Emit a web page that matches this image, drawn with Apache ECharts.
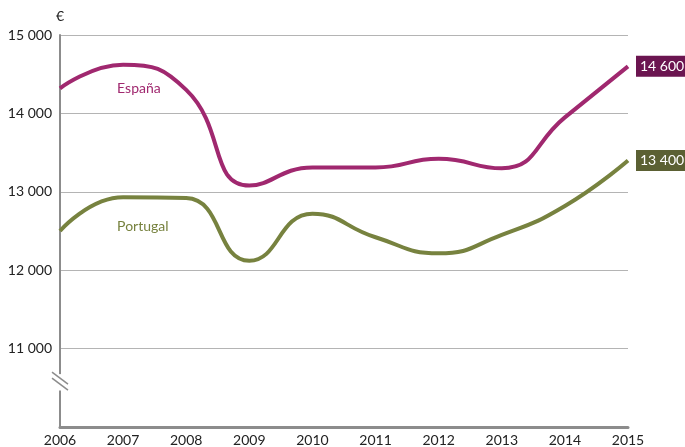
<!DOCTYPE html>
<html style="height: 100%">
  <head>
    <meta charset="utf-8" />
    <title>España / Portugal</title>
    <script src="https://cdn.jsdelivr.net/npm/echarts@6/dist/echarts.min.js"></script>
  </head>
  <body style="height: 100%; margin: 0; background: #fff">
    <div id="main" style="width: 685px; height: 447px"></div>
    <script type="text/javascript">
      var years = ["2006", "2007", "2008", "2009", "2010", "2011", "2012", "2013", "2014", "2015"];
      var espana = [14320, 14620, 14300, 13080, 13310, 13310, 13420, 13300, 13950, 14600];
      var portugal = [12500, 12930, 12920, 12120, 12720, 12420, 12215, 12450, 12820, 13400];
      var yTicks = [11000, 12000, 13000, 14000, 15000];

      var font = "Lato, 'Open Sans', sans-serif";
      var fmt = function (v) {
        return String(v).replace(/\B(?=(\d{3})+(?!\d))/g, " ");
      };

      var myChart = echarts.init(document.getElementById("main"));
      var option = {
        animation: false,
        textStyle: { fontFamily: font },
        grid: { left: 60, right: 57, top: 35, bottom: 20 },
        xAxis: {
          type: "category",
          data: years,
          boundaryGap: false,
          axisLine: { lineStyle: { color: "#8c8c8c", width: 3 } },
          axisTick: { show: false },
          axisLabel: { color: "#222", fontSize: 14, margin: 6, fontFamily: font },
          splitLine: { show: false },
        },
        yAxis: {
          type: "value",
          min: 10000,
          max: 15000,
          interval: 1000,
          name: "€",
          nameGap: 12,
          nameTextStyle: { color: "#222", fontSize: 14, align: "center" },
          axisLine: { show: true, lineStyle: { color: "#8c8c8c", width: 2 } },
          axisTick: { show: false },
          axisLabel: {
            color: "#222",
            fontSize: 14,
            margin: 8,
            fontFamily: font,
            formatter: function (v) {
              return yTicks.indexOf(v) >= 0 ? fmt(v) : "";
            },
          },
          splitLine: { lineStyle: { color: "#b4b4b4", width: 1 } },
        },
        series: [
          {
            name: "España",
            type: "line",
            data: espana,
            smooth: 0.5,
            symbol: "none",
            lineStyle: { color: "#a0286f", width: 4 },
            endLabel: {
              show: true,
              formatter: function (p) { return fmt(p.value); },
              color: "#fff",
              backgroundColor: "#6b1550",
              padding: [4, 4, 3, 4],
              fontSize: 14,
              distance: 8,
              fontFamily: font,
            },
          },
          {
            name: "Portugal",
            type: "line",
            data: portugal,
            smooth: 0.5,
            symbol: "none",
            lineStyle: { color: "#77823f", width: 4 },
            endLabel: {
              show: true,
              formatter: function (p) { return fmt(p.value); },
              color: "#fff",
              backgroundColor: "#5b6033",
              padding: [4, 4, 3, 4],
              fontSize: 14,
              distance: 8,
              fontFamily: font,
            },
          },
        ],
      };
      myChart.setOption(option);

      // series names + axis break mark
      var p1 = myChart.convertToPixel({ gridIndex: 0 }, [0, 10700]);
      var p2 = myChart.convertToPixel({ gridIndex: 0 }, [0, 10440]);
      var px = myChart.convertToPixel({ gridIndex: 0 }, [1, 14300]);
      var pp = myChart.convertToPixel({ gridIndex: 0 }, [1, 12550]);
      myChart.setOption({
        graphic: [
          { type: "text", x: px[0] - 6, y: px[1] - 8, style: { text: "España", fill: "#a0286f", font: "14px " + font } },
          { type: "text", x: pp[0] - 6, y: pp[1] - 8, style: { text: "Portugal", fill: "#77823f", font: "14px " + font } },
          { type: "rect", shape: { x: p1[0] - 3, y: p1[1] + 2, width: 6, height: p2[1] - p1[1] - 4 }, style: { fill: "#fff" }, z: 100 },
          { type: "line", shape: { x1: p1[0] - 8, y1: p1[1], x2: p1[0] + 8, y2: p1[1] + 12 }, style: { stroke: "#8c8c8c", lineWidth: 1.5 }, z: 101 },
          { type: "line", shape: { x1: p1[0] - 8, y1: p1[1] + 6, x2: p1[0] + 8, y2: p1[1] + 18 }, style: { stroke: "#8c8c8c", lineWidth: 1.5 }, z: 101 },
        ],
      });
    </script>
  </body>
</html>
